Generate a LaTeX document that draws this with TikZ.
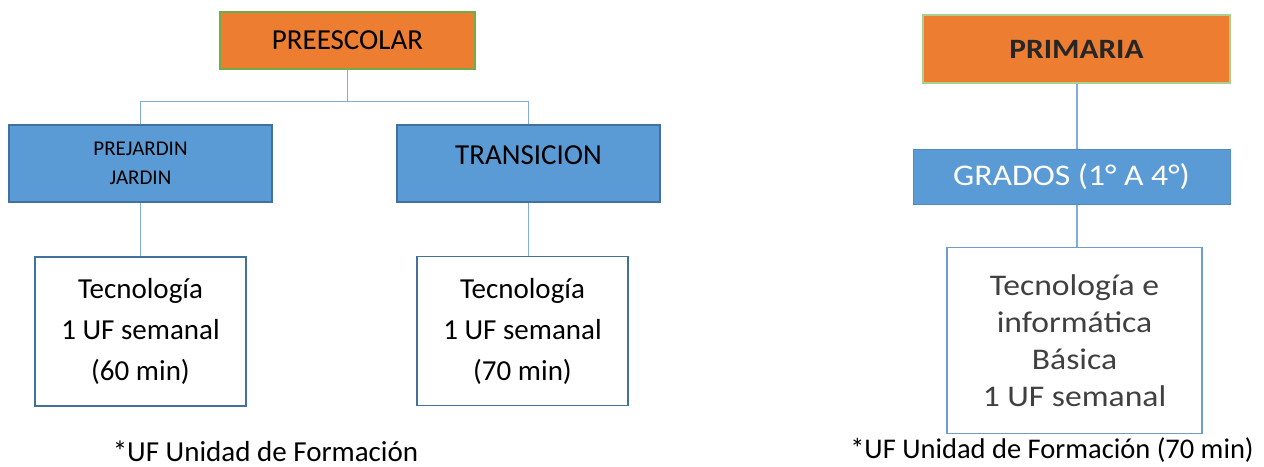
\documentclass[tikz,border=0pt]{standalone}
\usepackage{fontspec}
\setmainfont{Carlito}
\newfontfamily\anchafont[FakeStretch=1.12]{Carlito}
\usepackage{tikz}
\usetikzlibrary{positioning}

\definecolor{naranja}{HTML}{ED7D31}
\definecolor{verdeborde}{HTML}{70AD47}
\definecolor{verdeclaro}{HTML}{A9D18E}
\definecolor{azul}{HTML}{5B9BD5}
\definecolor{azulborde}{HTML}{41719C}
\definecolor{azulclaro}{HTML}{7FAEDD}
\definecolor{azulmedio}{HTML}{6E9BD0}
\definecolor{grisletra}{HTML}{404040}

\begin{document}
\begin{tikzpicture}[x=1pt, y=-1pt,
    nivel/.style={draw=verdeborde, line width=2.5pt, fill=naranja, minimum width=255pt,
                  minimum height=57pt, font=\fontsize{29}{35}\selectfont},
    grupo/.style={draw=azulborde, line width=2.5pt, fill=azul, minimum width=263pt,
                  minimum height=77pt, align=center},
    clase/.style={draw=azulborde, line width=1.8pt, fill=white, minimum width=211pt,
                  minimum height=149pt, align=center, font=\fontsize{29}{41}\selectfont},
    linea/.style={draw=azulclaro, line width=1.3pt},
    nota/.style={font=\fontsize{29}{35}\selectfont, inner sep=0pt}
]
\useasboundingbox (0,0) rectangle (1264,466);

% preescolar
\node[nivel] (pre) at (347.5,40.5) {PREESCOLAR};
\node[grupo, font=\fontsize{21}{29.5}\selectfont] (pj) at (140.5,163.5) {PREJARDIN\\JARDIN};
\node[grupo, font=\fontsize{29}{35}\selectfont, text depth=17pt] (tr) at (528.5,163.5) {TRANSICION};
\node[clase] (tecA) at (140.5,331.5) {Tecnología\\1 UF semanal\\(60 min)};
\node[clase] (tecB) at (522.5,331) {Tecnología\\1 UF semanal\\(70 min)};
\node[nota] (notaA) at (265.5,451) {*UF Unidad de Formación};

\draw[linea] (pre.south) -- ++(0,31) coordinate (rama);
\draw[linea] (pj.north) |- (rama) -| (tr.north);
\draw[linea] (pj.south) -- (tecA.north);
\draw[linea] (tr.south) -- (tr.south |- tecB.north);

% primaria
\node[nivel, draw=verdeclaro, line width=1.5pt, minimum width=307pt, minimum height=68pt,
      font=\anchafont\bfseries\fontsize{28}{34}\selectfont, text=black!85] (prim) at (1076.5,49) {PRIMARIA};
\node[grupo, draw=azul!90!black, line width=1pt, minimum width=317pt, minimum height=55pt,
      font=\anchafont\fontsize{30}{36}\selectfont, text=white] (grad) at (1071.5,177) {GRADOS (1° A 4°)};
\node[clase, draw=azulmedio, minimum width=255pt, minimum height=186pt,
      font=\anchafont\fontsize{30}{37}\selectfont, text=grisletra] (tib) at (1074.5,340.5)
      {Tecnología e\\informática\\Básica\\1 UF semanal};
\node[nota, font=\fontsize{28.5}{34}\selectfont] (notaB) at (1052,450) {*UF Unidad de Formación (70 min)};

\draw[linea, line width=2pt] (prim.south) -- (prim.south |- grad.north);
\draw[linea, line width=2pt] (grad.south -| prim.south) -- (tib.north -| prim.south);
\end{tikzpicture}
\end{document}
